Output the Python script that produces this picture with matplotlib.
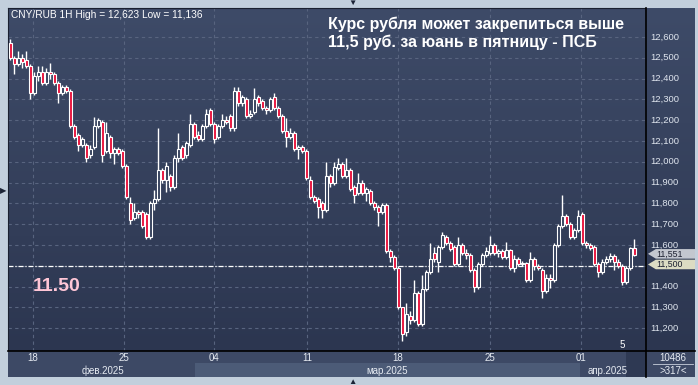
import numpy as np
import matplotlib.pyplot as plt
from matplotlib.colors import LinearSegmentedColormap
from matplotlib.patches import Polygon, Rectangle
from matplotlib.lines import Line2D

plt.rcParams['font.family'] = ['Liberation Sans', 'DejaVu Sans']

# свечи CNY/RUB (часовые, прорежены)
opens = [12.57, 12.50, 12.47, 12.50, 12.49, 12.46, 12.33, 12.41, 12.43, 12.38,
         12.43, 12.42, 12.38, 12.33, 12.36, 12.34, 12.17, 12.13, 12.08, 12.08,
         12.03, 12.07, 12.17, 12.19, 12.05, 12.12, 12.04, 12.06, 12.05, 11.98,
         11.80, 11.73, 11.76, 11.76, 11.75, 11.64, 11.80, 11.82, 11.96, 11.91,
         11.93, 11.88, 12.02, 12.07, 12.03, 12.08, 12.18, 12.13, 12.11, 12.17,
         12.25, 12.18, 12.12, 12.17, 12.20, 12.22, 12.16, 12.34, 12.28, 12.30,
         12.22, 12.24, 12.31, 12.29, 12.26, 12.25, 12.31, 12.26, 12.22, 12.15,
         12.12, 12.14, 12.06, 12.07, 12.05, 11.91, 11.83, 11.82, 11.80, 11.77,
         11.93, 11.90, 11.97, 11.99, 11.93, 11.96, 11.88, 11.85, 11.90, 11.85,
         11.86, 11.80, 11.78, 11.76, 11.79, 11.57, 11.54, 11.49, 11.30, 11.18,
         11.26, 11.24, 11.37, 11.22, 11.39, 11.47, 11.56, 11.52, 11.59, 11.64,
         11.61, 11.59, 11.51, 11.60, 11.56, 11.55, 11.48, 11.40, 11.51, 11.55,
         11.56, 11.60, 11.56, 11.57, 11.54, 11.575, 11.49, 11.53, 11.51, 11.515,
         11.43, 11.53, 11.50, 11.48, 11.38, 11.44, 11.43, 11.60, 11.69, 11.74,
         11.70, 11.64, 11.67, 11.75, 11.61, 11.60, 11.59, 11.51, 11.47, 11.52,
         11.53, 11.545, 11.52, 11.50, 11.42, 11.49, 11.585]
highs = [12.59, 12.51, 12.53, 12.52, 12.53, 12.47, 12.43, 12.46, 12.46, 12.45,
         12.475, 12.43, 12.39, 12.37, 12.37, 12.35, 12.18, 12.14, 12.12, 12.09,
         12.08, 12.215, 12.21, 12.20, 12.19, 12.13, 12.07, 12.07, 12.06, 11.99,
         11.83, 11.80, 11.77, 11.77, 11.76, 11.81, 11.865, 12.16, 11.97, 12.00,
         11.94, 12.03, 12.14, 12.08, 12.10, 12.23, 12.19, 12.15, 12.18, 12.255,
         12.26, 12.19, 12.18, 12.23, 12.22, 12.23, 12.36, 12.36, 12.32, 12.31,
         12.25, 12.355, 12.32, 12.30, 12.27, 12.31, 12.33, 12.27, 12.23, 12.21,
         12.16, 12.15, 12.08, 12.08, 12.06, 11.93, 11.84, 11.83, 11.81, 12.00,
         11.94, 12.00, 12.02, 12.00, 12.02, 11.97, 11.89, 11.945, 11.91, 11.88,
         11.87, 11.81, 11.79, 11.80, 11.80, 11.58, 11.55, 11.50, 11.30, 11.32,
         11.28, 11.43, 11.38, 11.455, 11.48, 11.61, 11.59, 11.60, 11.66, 11.65,
         11.62, 11.60, 11.64, 11.61, 11.58, 11.56, 11.49, 11.52, 11.56, 11.59,
         11.645, 11.61, 11.58, 11.58, 11.615, 11.58, 11.55, 11.54, 11.525, 11.52,
         11.565, 11.54, 11.51, 11.49, 11.46, 11.46, 11.61, 11.70, 11.84, 11.75,
         11.71, 11.68, 11.77, 11.76, 11.62, 11.61, 11.60, 11.52, 11.53, 11.545,
         11.56, 11.555, 11.53, 11.51, 11.50, 11.59, 11.63]
lows = [12.49, 12.42, 12.46, 12.45, 12.45, 12.30, 12.32, 12.39, 12.37, 12.37,
        12.40, 12.37, 12.28, 12.32, 12.33, 12.16, 12.11, 12.05, 12.07, 12.00,
        12.02, 12.06, 12.16, 12.00, 12.04, 12.02, 11.99, 12.03, 11.97, 11.82,
        11.70, 11.72, 11.73, 11.68, 11.63, 11.63, 11.77, 11.81, 11.90, 11.855,
        11.86, 11.87, 12.00, 12.01, 12.02, 12.07, 12.11, 12.10, 12.10, 12.16,
        12.17, 12.09, 12.11, 12.16, 12.18, 12.15, 12.15, 12.27, 12.27, 12.21,
        12.21, 12.23, 12.27, 12.25, 12.23, 12.24, 12.25, 12.21, 12.14, 12.07,
        12.11, 12.05, 12.015, 12.04, 11.91, 11.82, 11.80, 11.73, 11.73, 11.76,
        11.88, 11.89, 11.96, 11.92, 11.92, 11.86, 11.80, 11.84, 11.84, 11.81,
        11.79, 11.77, 11.69, 11.75, 11.56, 11.52, 11.48, 11.29, 11.136, 11.16,
        11.22, 11.23, 11.21, 11.21, 11.38, 11.46, 11.52, 11.47, 11.58, 11.60,
        11.57, 11.50, 11.50, 11.55, 11.53, 11.47, 11.375, 11.39, 11.50, 11.54,
        11.55, 11.55, 11.54, 11.53, 11.53, 11.48, 11.47, 11.50, 11.50, 11.42,
        11.42, 11.48, 11.48, 11.345, 11.37, 11.395, 11.42, 11.59, 11.68, 11.69,
        11.63, 11.63, 11.66, 11.60, 11.585, 11.575, 11.50, 11.445, 11.46, 11.51,
        11.52, 11.48, 11.49, 11.405, 11.41, 11.48, 11.545]
closes = [12.50, 12.47, 12.50, 12.48, 12.46, 12.33, 12.41, 12.43, 12.38, 12.43,
          12.42, 12.38, 12.33, 12.36, 12.34, 12.17, 12.12, 12.08, 12.11, 12.02,
          12.06, 12.17, 12.20, 12.03, 12.14, 12.04, 12.06, 12.04, 11.98, 11.83,
          11.72, 11.76, 11.75, 11.69, 11.64, 11.80, 11.82, 11.96, 11.91, 11.98,
          11.88, 12.02, 12.06, 12.02, 12.09, 12.18, 12.12, 12.11, 12.17, 12.23,
          12.18, 12.11, 12.17, 12.20, 12.19, 12.16, 12.34, 12.28, 12.31, 12.22,
          12.23, 12.30, 12.28, 12.26, 12.25, 12.30, 12.26, 12.22, 12.15, 12.12,
          12.14, 12.06, 12.07, 12.05, 11.92, 11.83, 11.81, 11.78, 11.77, 11.93,
          11.90, 11.975, 11.99, 11.93, 11.96, 11.87, 11.84, 11.90, 11.85, 11.87,
          11.80, 11.78, 11.76, 11.79, 11.57, 11.54, 11.49, 11.30, 11.17, 11.27,
          11.24, 11.37, 11.22, 11.39, 11.47, 11.53, 11.53, 11.59, 11.65, 11.61,
          11.58, 11.51, 11.60, 11.56, 11.55, 11.48, 11.40, 11.51, 11.55, 11.57,
          11.60, 11.56, 11.57, 11.54, 11.575, 11.49, 11.53, 11.51, 11.515, 11.43,
          11.53, 11.50, 11.49, 11.38, 11.44, 11.43, 11.60, 11.69, 11.74, 11.70,
          11.64, 11.67, 11.74, 11.61, 11.60, 11.585, 11.51, 11.47, 11.52, 11.53,
          11.545, 11.52, 11.50, 11.42, 11.49, 11.585, 11.551]

price_ticks = [11.2, 11.3, 11.4, 11.5, 11.6, 11.7, 11.8, 11.9, 12.0, 12.1,
               12.2, 12.3, 12.4, 12.5, 12.6]
# позиции дат (в номерах свечей) и подписи
date_pos = [5.75, 28.5, 51.0, 74.25, 97.0, 120.0, 142.75]
date_labels = ['18', '25', '04', '11', '18', '25', '01']
month_pos = [23.25, 94.25, 149.5]
month_labels = ['фев.2025', 'мар.2025', 'апр.2025']
march_span = (46.25, 142.5)

last_price = 11.551
level_price = 11.50

title = 'Курс рубля может закрепиться выше\n11,5 руб. за юань в пятницу - ПСБ'
info = 'CNY/RUB 1H High = 12,623 Low = 11,136'

W, H = 698, 385
XL = (-0.5, 159.0)
YL = (11.090, 12.739)


def rect(x0, y0, x1, y1):
    # пиксели -> доли фигуры
    return [x0 / W, 1 - y1 / H, (x1 - x0) / W, (y1 - y0) / H]


fig = plt.figure(figsize=(W / 100, H / 100), dpi=100)
fig.patch.set_facecolor('#c2cfdc')

bg = LinearSegmentedColormap.from_list('bg', ['#2c3650', '#3e4b68'])
grad = np.linspace(0, 1, 256).reshape(-1, 1)

ax = fig.add_axes(rect(8, 8, 646, 351))
ax.imshow(grad, extent=[XL[0], XL[1], YL[0], YL[1]], origin='lower',
          aspect='auto', cmap=bg, zorder=0)
ax.set_xlim(XL)
ax.set_ylim(YL)
ax.set_xticks([])
ax.set_yticks([])
for s in ax.spines.values():
    s.set_color('#1a2030')
    s.set_linewidth(0.8)

grid_kw = dict(color='#58647f', lw=0.8, ls=(0, (3, 3)), zorder=1)
for p in price_ticks:
    ax.axhline(p, **grid_kw)
for d in date_pos:
    ax.axvline(d, **grid_kw)

o = np.array(opens)
hi = np.array(highs)
lo = np.array(lows)
c = np.array(closes)
x = np.arange(len(c))
top = np.maximum(o, c)
bot = np.minimum(o, c)
up = c >= o

ax.vlines(x, top, hi, color='white', lw=1.0, zorder=3)
ax.vlines(x, lo, bot, color='white', lw=1.0, zorder=3)
ax.bar(x[up], (top - bot)[up], bottom=bot[up], width=0.75,
       facecolor='#34405c', edgecolor='white', linewidth=0.8, zorder=4)
ax.bar(x[~up], (top - bot)[~up], bottom=bot[~up], width=0.75,
       facecolor='#e8123c', edgecolor='white', linewidth=0.8, zorder=4)

ax.axhline(level_price, color='white', lw=0.9, ls=(0, (4, 1.5, 1, 1.5)), zorder=2)

ax.text(0.005, 0.979, info, transform=ax.transAxes, color='white',
        fontsize=7.3, va='center', ha='left', zorder=6)
ax.text(0.5016, 0.925, title, transform=ax.transAxes, color='white',
        fontsize=11.5, fontweight='bold', va='center', ha='left',
        linespacing=1.2, zorder=6)
ax.text(0.039, 0.187, '11.50', transform=ax.transAxes, color='#ffc6d6',
        fontsize=14, fontweight='bold', va='center', ha='left', zorder=6)
ax.text(0.963, 0.018, '5', transform=ax.transAxes, color='white',
        fontsize=7, va='center', ha='center', zorder=6)

# правая шкала цен
axr = fig.add_axes(rect(646, 8, 695, 351))
axr.imshow(grad, extent=[0, 1, YL[0], YL[1]], origin='lower',
           aspect='auto', cmap=bg, zorder=0)
axr.set_xlim(0, 1)
axr.set_ylim(YL)
axr.set_xticks([])
axr.set_yticks([])
for s in axr.spines.values():
    s.set_visible(False)
axr.spines['left'].set_visible(True)
axr.spines['left'].set_color('black')
axr.spines['left'].set_linewidth(1.2)
for p in price_ticks:
    if abs(p - level_price) < 1e-9:
        continue  # закрыта плашкой уровня
    axr.text(0.08, p, f'{p:.3f}'.replace('.', ','), color='#dfe5ee',
             fontsize=6.8, va='center', ha='left')

hh = 0.023
for val, fc in [(last_price, '#c3c7cf'), (level_price, '#dcdcc3')]:
    yc = val + 0.006
    pts = [(0.04, yc), (0.2, yc + hh), (1.0, yc + hh), (1.0, yc - hh), (0.2, yc - hh)]
    axr.add_patch(Polygon(pts, closed=True, facecolor=fc, edgecolor='none', zorder=3))
    axr.text(0.22, yc, f'{val:.3f}'.replace('.', ','), color='#1c2030',
             fontsize=6.3, va='center', ha='left', zorder=4)

# нижняя шкала дат
axb = fig.add_axes(rect(8, 351, 646, 377))
axb.set_facecolor('#3d4965')
axb.set_xlim(XL)
axb.set_ylim(0, 1)
axb.set_xticks([])
axb.set_yticks([])
for s in axb.spines.values():
    s.set_visible(False)
axb.add_patch(Rectangle((march_span[0], 0), march_span[1] - march_span[0], 0.54,
                        facecolor='#4c5b77', edgecolor='none', zorder=1))
axb.add_patch(Rectangle((154.0, 0), 5.0, 1.0, facecolor='#2e3953',
                        edgecolor='none', zorder=1))
for d, lab in zip(date_pos, date_labels):
    axb.text(d, 0.73, lab, color='#e6ebf2', fontsize=7, ha='center',
             va='center', zorder=3)
for m, lab in zip(month_pos, month_labels):
    axb.text(m, 0.23, lab, color='#e6ebf2', fontsize=7, ha='center',
             va='center', zorder=3)

axc = fig.add_axes(rect(646, 351, 695, 377))
axc.set_facecolor('#3d4965')
axc.set_xlim(0, 1)
axc.set_ylim(0, 1)
axc.set_xticks([])
axc.set_yticks([])
for s in axc.spines.values():
    s.set_visible(False)
axc.spines['left'].set_visible(True)
axc.spines['left'].set_color('black')
axc.spines['left'].set_linewidth(1.2)
axc.text(0.55, 0.73, '10486', color='#e6ebf2', fontsize=7, ha='center', va='center')
axc.plot([0.15, 0.95], [0.5, 0.5], color='#c8d0dc', lw=0.6)
axc.text(0.55, 0.23, '>317<', color='#e6ebf2', fontsize=7, ha='center', va='center')

# чёрная линия над шкалой дат
fig.add_artist(Line2D([8 / W, 695 / W], [1 - 351 / H, 1 - 351 / H],
                      color='black', lw=1.2))

# треугольники на рамке
fig.text(352 / W, 1 - 3 / H, '▼', color='#1c2436', fontsize=6, ha='center', va='center')
fig.text(352 / W, 1 - 382 / H, '▲', color='#1c2436', fontsize=6, ha='center', va='center')
fig.text(3.5 / W, 1 - 192 / H, '▶', color='#1c2436', fontsize=6, ha='center', va='center')

fig.savefig('out.png', dpi=100, facecolor=fig.get_facecolor())
